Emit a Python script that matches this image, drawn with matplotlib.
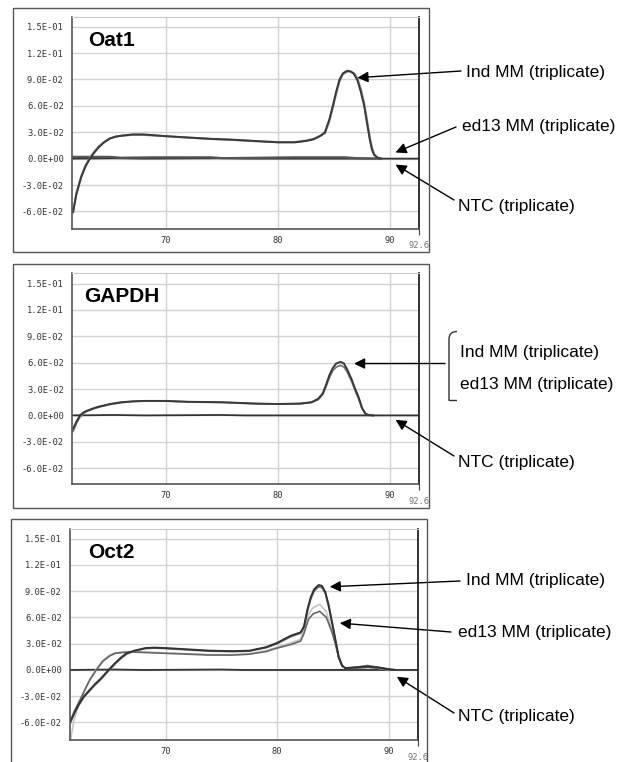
import numpy as np
import matplotlib.pyplot as plt
from matplotlib.patches import Rectangle, PathPatch
from matplotlib.path import Path
from matplotlib.ticker import FuncFormatter

W, H = 623, 762

# ---- Oat1 ----
oat_x = [61.7, 62.0, 62.4, 62.8, 63.2, 63.6, 64.0, 64.5, 65.0, 65.5, 66.0, 67.0, 68.0,
         70.0, 72.0, 74.0, 76.0, 78.0, 80.0, 81.5, 82.5, 83.2, 83.8, 84.2, 84.6, 84.9,
         85.2, 85.5, 85.8, 86.2, 86.5, 86.8, 87.1, 87.4, 87.7, 88.0, 88.2, 88.4, 88.6,
         88.9, 89.2]
oat_ind_a = [-0.061, -0.040, -0.022, -0.009, 0.000, 0.007, 0.013, 0.019, 0.023, 0.025,
             0.026, 0.0275, 0.0275, 0.0255, 0.024, 0.0225, 0.0215, 0.020, 0.0185, 0.0185,
             0.020, 0.022, 0.026, 0.030, 0.045, 0.060, 0.076, 0.090, 0.097, 0.100, 0.099,
             0.096, 0.089, 0.076, 0.060, 0.037, 0.022, 0.010, 0.004, 0.001, 0.0]
oat_ind_b = [-0.059, -0.039, -0.021, -0.008, 0.001, 0.008, 0.014, 0.019, 0.023, 0.025,
             0.026, 0.027, 0.027, 0.0255, 0.0238, 0.0223, 0.0212, 0.0198, 0.0188, 0.0188,
             0.0205, 0.0225, 0.026, 0.029, 0.043, 0.058, 0.074, 0.088, 0.096, 0.099, 0.099,
             0.097, 0.091, 0.079, 0.063, 0.040, 0.024, 0.012, 0.005, 0.001, 0.0]
oat_ed13_x = [61.7, 63.0, 65.0, 66.0, 69.0, 74.0, 75.0, 81.5, 86.0, 87.0, 89.2]
oat_ed13 = [0.002, 0.002, 0.002, 0.001, 0.0015, 0.0015, 0.0005, 0.0015, 0.0015, 0.0005, 0.0]

# ---- GAPDH ----
gap_x = [61.7, 62.0, 62.3, 62.7, 63.0, 63.5, 64.0, 65.0, 66.0, 67.0, 68.0, 70.0, 72.0,
         75.0, 78.0, 80.0, 82.0, 83.0, 83.6, 84.0, 84.3, 84.6, 84.9, 85.2, 85.6, 85.9,
         86.2, 86.6, 86.9, 87.2, 87.5, 87.8, 88.1, 88.5]
gap_ind = [-0.015, -0.007, 0.000, 0.004, 0.0056, 0.008, 0.010, 0.013, 0.015, 0.016,
           0.0165, 0.0165, 0.0155, 0.015, 0.0135, 0.013, 0.0135, 0.015, 0.019, 0.025,
           0.035, 0.046, 0.054, 0.059, 0.061, 0.059, 0.052, 0.0405, 0.030, 0.021, 0.009,
           0.002, 0.0005, 0.0]
gap_ed13 = [-0.018, -0.009, -0.002, 0.003, 0.005, 0.0075, 0.0095, 0.0125, 0.0145, 0.0158,
            0.0163, 0.0163, 0.0153, 0.0148, 0.0133, 0.0128, 0.0133, 0.0148, 0.018, 0.024,
            0.033, 0.043, 0.051, 0.055, 0.057, 0.055, 0.049, 0.038, 0.028, 0.019, 0.008,
            0.002, 0.0005, 0.0]

# ---- Oct2 ----
oct_ind_x = [61.5, 61.8, 62.2, 62.7, 63.2, 63.7, 64.2, 64.9, 65.5, 66.0, 66.5, 67.2, 68.2,
             69.0, 70.0, 72.0, 74.0, 76.0, 77.5, 79.0, 80.0, 81.2, 82.1, 82.4, 82.7, 83.0,
             83.3, 83.7, 84.0, 84.3, 84.6, 84.9, 85.2, 85.5, 85.8, 86.1, 87.0, 88.1, 89.0,
             89.9, 90.6]
oct_ind_a = [-0.058, -0.050, -0.040, -0.030, -0.023, -0.016, -0.010, 0.000, 0.008, 0.014,
             0.019, 0.022, 0.025, 0.0255, 0.025, 0.0235, 0.022, 0.0215, 0.022, 0.026,
             0.031, 0.039, 0.043, 0.050, 0.069, 0.083, 0.092, 0.097, 0.096, 0.089, 0.074,
             0.055, 0.035, 0.015, 0.005, 0.002, 0.003, 0.004, 0.003, 0.001, 0.0]
oct_ind_b = [-0.060, -0.051, -0.041, -0.031, -0.024, -0.017, -0.011, -0.001, 0.007, 0.013,
             0.018, 0.0215, 0.0245, 0.025, 0.0245, 0.023, 0.0215, 0.021, 0.0215, 0.0255,
             0.030, 0.038, 0.042, 0.049, 0.067, 0.081, 0.090, 0.095, 0.094, 0.088, 0.073,
             0.054, 0.034, 0.014, 0.005, 0.002, 0.003, 0.005, 0.003, 0.001, 0.0]
oct_ed13_x = [61.5, 61.8, 62.2, 62.7, 63.2, 63.8, 64.4, 65.0, 65.5, 66.2, 67.0, 68.0, 70.0,
              72.0, 74.0, 76.0, 77.5, 79.0, 80.0, 81.2, 82.1, 82.4, 82.8, 83.2, 83.8, 84.4,
              84.9, 85.2, 85.5, 85.8, 86.1, 87.0, 88.1, 89.0, 90.0]
oct_ed13_a = [-0.060, -0.048, -0.038, -0.025, -0.012, 0.000, 0.010, 0.016, 0.019, 0.020,
              0.0205, 0.020, 0.019, 0.018, 0.017, 0.017, 0.018, 0.021, 0.025, 0.029, 0.033,
              0.042, 0.058, 0.064, 0.067, 0.060, 0.043, 0.030, 0.015, 0.005, 0.002, 0.002,
              0.003, 0.002, 0.0]
oct_ed13_b = [-0.080, -0.058, -0.040, -0.024, -0.011, 0.001, 0.011, 0.017, 0.0195, 0.0205,
              0.021, 0.0205, 0.0195, 0.0185, 0.0175, 0.0175, 0.0185, 0.022, 0.026, 0.031,
              0.035, 0.046, 0.064, 0.071, 0.075, 0.066, 0.046, 0.031, 0.015, 0.005, 0.002,
              0.002, 0.003, 0.002, 0.0]
ntc_x = [61.4, 65.5, 68.0, 75.0, 77.0, 92.6]
ntc_y = [0.0, 0.0005, 0.0, 0.0005, 0.0, 0.0]

ytick_vals = [-0.06, -0.03, 0.0, 0.03, 0.06, 0.09, 0.12, 0.15]
xtick_vals = [70, 80, 90]

LABEL_FONT = ['Liberation Sans', 'DejaVu Sans']


def rect_px(l, t, r, b):
    return [l / W, 1 - b / H, (r - l) / W, (b - t) / H]


def fpos(x, y):
    return (x / W, 1 - y / H)


def make_panel(fig, axrect, box, xlim, ylim, title, title_xy):
    l, t, r, b = box
    fig.add_artist(Rectangle(fpos(l, b), (r - l) / W, (b - t) / H, transform=fig.transFigure,
                             fill=False, ec='#555555', lw=1.0))
    ax = fig.add_axes(rect_px(*axrect))
    ax.set_xlim(*xlim)
    ax.set_ylim(*ylim)
    ax.set_yticks(ytick_vals)
    ax.set_xticks(xtick_vals)
    ax.yaxis.set_major_formatter(FuncFormatter(lambda v, p: f"{v:.1E}"))
    ax.set_xticks([92.6], minor=True)
    ax.set_xticklabels(['92.6'], minor=True)
    ax.grid(True, which='major', color='#d2d2d2', lw=1.0)
    ax.set_axisbelow(True)
    ax.tick_params(which='major', length=0, labelsize=6.3, labelcolor='#333333', pad=5)
    ax.tick_params(axis='y', pad=6)
    ax.tick_params(which='minor', axis='x', length=4, width=0.8, color='#444444',
                   labelsize=6.3, labelcolor='#777777', pad=5)
    for lab in ax.get_xticklabels(which='both') + ax.get_yticklabels():
        lab.set_family('DejaVu Sans Mono')
    for side in ['left', 'bottom']:
        ax.spines[side].set_color('#555555')
        ax.spines[side].set_linewidth(1.2)
    ax.spines['right'].set_color('#222222')
    ax.spines['right'].set_linewidth(1.3)
    ax.spines['top'].set_color('#c8c8c8')
    fig.text(*fpos(*title_xy), title, fontsize=15, fontweight='bold', family=LABEL_FONT,
             ha='left', va='center')
    return ax


def label(fig, ax, text, head, tail, text_xy):
    fig.text(*fpos(*text_xy), text, fontsize=12.5, family=LABEL_FONT, ha='left', va='center')
    if head is not None:
        ax.annotate('', xy=head, xycoords='data', xytext=fpos(*tail),
                    textcoords='figure fraction', annotation_clip=False,
                    arrowprops=dict(arrowstyle='-|>', color='black', lw=1.0,
                                    mutation_scale=16, shrinkA=0, shrinkB=0))


fig = plt.figure(figsize=(W / 100, H / 100), dpi=100)

# Oat1
ax1 = make_panel(fig, (72, 17, 419, 229), (13, 8, 429, 252), (61.6, 92.6), (-0.08, 0.161),
                 'Oat1', (88, 41))
ax1.plot(ntc_x, ntc_y, color='#333333', lw=1.3)
ax1.plot(oat_ed13_x, oat_ed13, color='#555555', lw=1.6)
ax1.plot(oat_x, oat_ind_b, color='#888888', lw=1.5)
ax1.plot(oat_x, oat_ind_a, color='#3a3a3a', lw=1.4)
label(fig, ax1, 'Ind MM (triplicate)', (87.1, 0.092), (461, 71), (466, 73))
label(fig, ax1, 'ed13 MM (triplicate)', (90.5, 0.007), (456, 127), (462, 126))
label(fig, ax1, 'NTC (triplicate)', (90.5, -0.0068), (454, 200), (458, 206))

# GAPDH
ax2 = make_panel(fig, (72, 273, 419, 484), (13, 264, 429, 508), (61.6, 92.6), (-0.078, 0.162),
                 'GAPDH', (84, 296))
ax2.plot(ntc_x, ntc_y, color='#333333', lw=1.3)
ax2.plot(gap_x, gap_ed13, color='#777777', lw=1.3)
ax2.plot(gap_x, gap_ind, color='#3a3a3a', lw=1.4)
label(fig, ax2, 'Ind MM (triplicate)', None, None, (460, 353))
label(fig, ax2, 'ed13 MM (triplicate)', None, None, (460, 385))
ax2.annotate('', xy=(86.8, 0.059), xycoords='data', xytext=fpos(445, 363.5),
             textcoords='figure fraction', annotation_clip=False,
             arrowprops=dict(arrowstyle='-|>', color='black', lw=1.0, mutation_scale=16,
                             shrinkA=0, shrinkB=0))
label(fig, ax2, 'NTC (triplicate)', (90.5, -0.005), (454, 456), (458, 462))

# bracket
bx = [457, 449, 449, 449, 449, 449, 457]
by = [331.5, 331.5, 339, 394, 400.5, 400.5, 400.5]
verts = [fpos(x, y) for x, y in zip(bx, by)]
codes = [Path.MOVETO, Path.CURVE3, Path.CURVE3, Path.LINETO, Path.CURVE3, Path.CURVE3,
         Path.LINETO]
fig.add_artist(PathPatch(Path(verts, codes), transform=fig.transFigure, fill=False,
                         ec='#333333', lw=1.0))

# Oct2
ax3 = make_panel(fig, (70, 529, 418, 740), (11, 519, 427, 766), (61.45, 92.6), (-0.08, 0.161),
                 'Oct2', (88, 552))
ax3.plot(ntc_x, ntc_y, color='#333333', lw=1.3)
ax3.plot(oct_ed13_x, oct_ed13_b, color='#c4c4c4', lw=1.2)
ax3.plot(oct_ed13_x, oct_ed13_a, color='#666666', lw=1.2)
ax3.plot(oct_ind_x, oct_ind_b, color='#777777', lw=1.3)
ax3.plot(oct_ind_x, oct_ind_a, color='#333333', lw=1.4)
label(fig, ax3, 'Ind MM (triplicate)', (84.7, 0.095), (460, 581), (466, 580))
label(fig, ax3, 'ed13 MM (triplicate)', (85.6, 0.0535), (451, 632), (458, 633))
label(fig, ax3, 'NTC (triplicate)', (90.7, -0.0077), (454, 713), (458, 717))

fig.savefig('out.png', dpi=100)
